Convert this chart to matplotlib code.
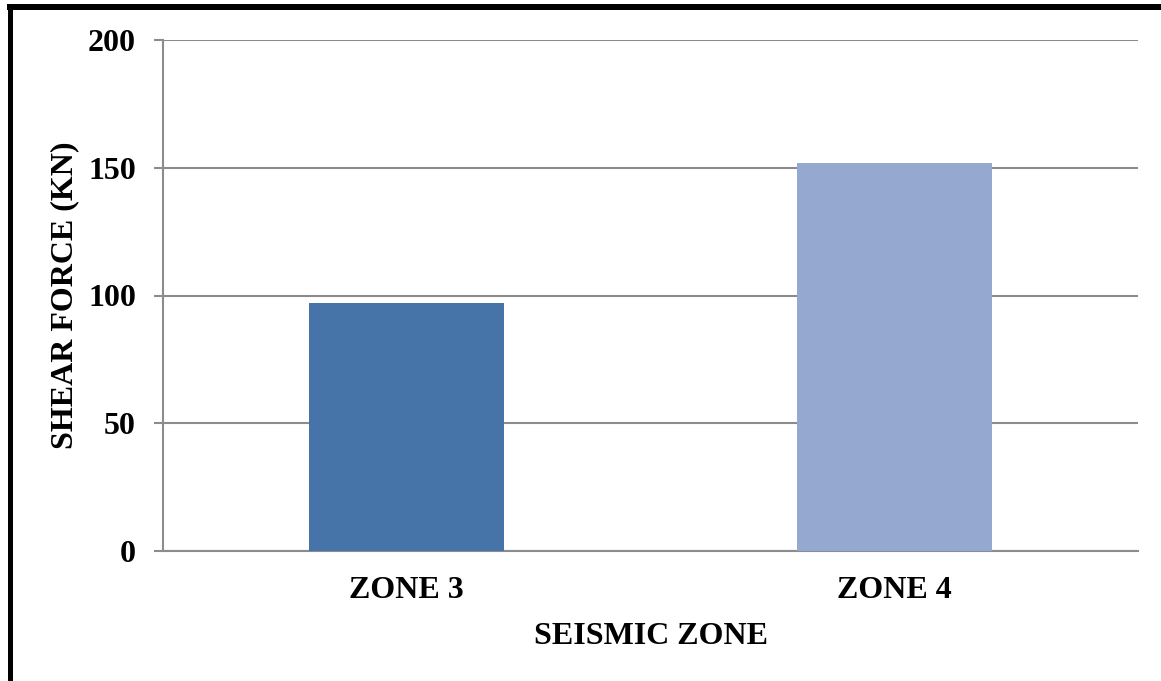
import matplotlib
matplotlib.use("Agg")
import matplotlib.pyplot as plt
from matplotlib.patches import Rectangle

# Data
zones = ["ZONE 3", "ZONE 4"]
shear_force = [97, 152]
bar_colors = ["#4674A8", "#95A9D0"]
y_ticks = [0, 50, 100, 150, 200]

plt.rcParams["font.family"] = ["Liberation Serif", "DejaVu Serif"]
plt.rcParams["font.weight"] = "bold"

W, H = 1161, 681
fig = plt.figure(figsize=(W / 100, H / 100), dpi=100)
fig.patch.set_facecolor("white")

ax = fig.add_axes([163 / W, 1 - 551 / H, (1138 - 163) / W, (551 - 40) / H])

x = range(len(zones))
ax.bar(x, shear_force, width=0.40, color=bar_colors, zorder=3)

ax.set_xlim(-0.5, len(zones) - 0.5)
ax.set_ylim(0, 200)
ax.set_yticks(y_ticks)
ax.set_xticks(list(x))
ax.set_xticklabels(zones)

grid_color = "#8C8C8C"
ax.yaxis.grid(True, color=grid_color, linewidth=1.5, zorder=0)
ax.set_axisbelow(True)
for side in ["top", "right"]:
    ax.spines[side].set_visible(False)
for side in ["left", "bottom"]:
    ax.spines[side].set_color(grid_color)
    ax.spines[side].set_linewidth(1.5)

ax.tick_params(axis="y", length=6.5, width=1.5, color=grid_color, pad=13,
               labelsize=23)
ax.tick_params(axis="x", length=0, pad=18, labelsize=23)
for lab in ax.get_xticklabels() + ax.get_yticklabels():
    lab.set_fontweight("bold")

ax.set_ylabel("SHEAR FORCE (KN)", fontsize=23, fontweight="bold", labelpad=6)
ax.set_xlabel("SEISMIC ZONE", fontsize=23, fontweight="bold", labelpad=12)

# Page frame: thick rule along the top and down the left edge
fig.add_artist(Rectangle((8 / W, 0), 4.5 / W, 1 - 4 / H,
                         transform=fig.transFigure, color="black", lw=0))
fig.add_artist(Rectangle((7 / W, 1 - 10 / H), 1 - 7 / W, 6 / H,
                         transform=fig.transFigure, color="black", lw=0))

fig.savefig("out.png", dpi=100)
